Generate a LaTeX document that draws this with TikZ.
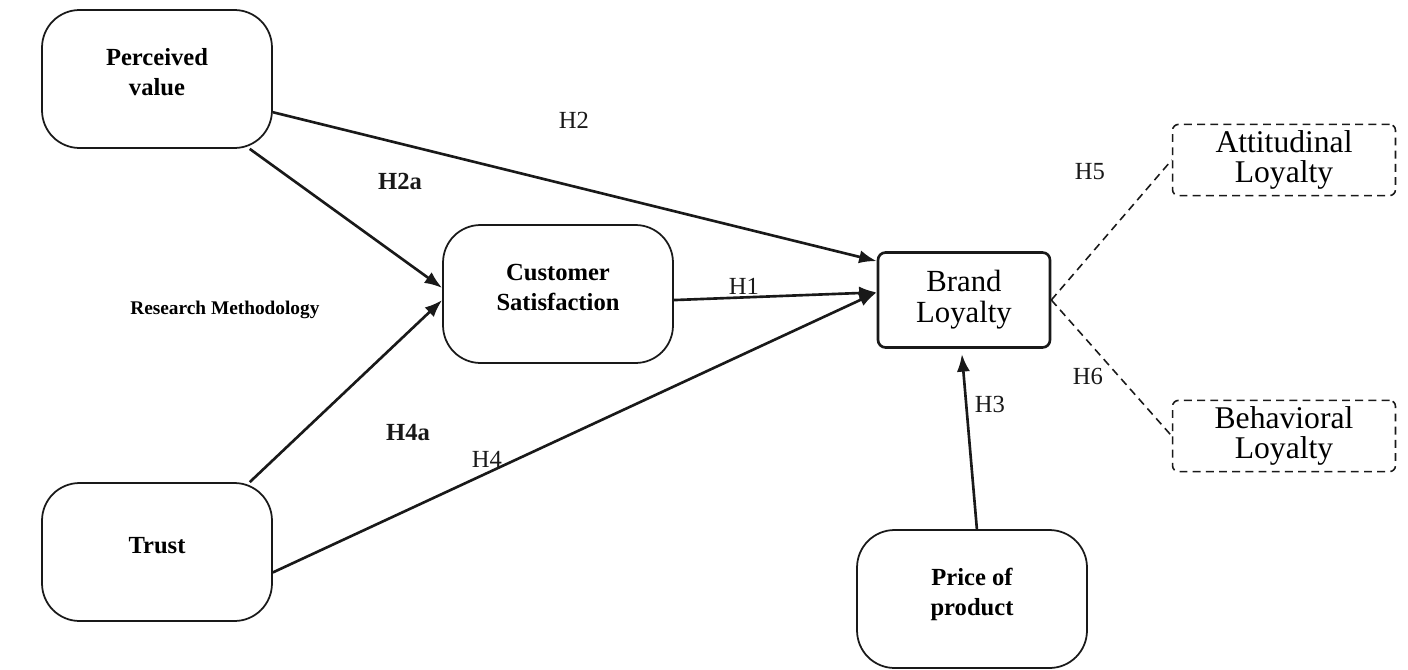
\documentclass[tikz,border=0pt]{standalone}
\usepackage{fontspec}
\setmainfont{Liberation Serif}
\usetikzlibrary{arrows.meta,positioning}
\definecolor{inkBlack}{RGB}{25,25,25}

% lifts the text of a construct a little above the middle
\newcommand{\upnudge}{\\[-9pt]\mbox{}}

\tikzset{
  constructBox/.style={draw=inkBlack,rounded corners=0.75cm,line width=1pt,minimum width=4.6cm,minimum height=2.76cm,align=center,font=\bfseries\fontsize{14}{17}\selectfont},
  brandBox/.style={draw=inkBlack,rounded corners=0.15cm,line width=1.5pt,minimum width=3.44cm,minimum height=1.9cm,align=center,font=\fontsize{17.5}{17.5}\selectfont},
  dimBox/.style={draw=inkBlack,dash pattern=on 4.5pt off 3pt,rounded corners=0.12cm,line width=0.9pt,minimum width=4.46cm,minimum height=1.26cm,align=center,font=\fontsize{18}{17.5}\selectfont},
  pathArrow/.style={-{Latex[length=10pt,width=7.5pt]},line width=1.5pt,draw=inkBlack},
  dimLink/.style={dash pattern=on 4.5pt off 3pt,line width=0.9pt,draw=inkBlack},
  hypLabel/.style={font=\fontsize{14}{15}\selectfont,text=inkBlack},
  hypBold/.style={font=\bfseries\fontsize{14}{15}\selectfont,text=inkBlack}
}

\begin{document}
\begin{tikzpicture}[x=0.02cm,y=-0.02cm]
\path[use as bounding box] (0,0) rectangle (1408,669);

% constructs
\node[constructBox] (pv) at (157,79) {Perceived\\value\upnudge};
\node[constructBox] (tr) at (157,552) {Trust\upnudge};
\node[constructBox] (cs) at (558,294) {Customer\\Satisfaction\upnudge};
\node[constructBox] (pp) at (972,599) {Price of\\product\upnudge};
\node[brandBox] (bl) at (964,300) {Brand\\Loyalty};
\node[dimBox] (al) at (1284,160) {Attitudinal\\Loyalty};
\node[dimBox] (bh) at (1284,436) {Behavioral\\Loyalty};

\node[anchor=west,inner sep=0pt,font=\bfseries\fontsize{11}{12}\selectfont] (rm) at (130,310) {Research Methodology};

% hypotheses
\draw[pathArrow] (pv.-16) -- (bl.156);
\draw[pathArrow] (pv.-37) -- (cs.177);
\draw[pathArrow] (tr.37) -- (cs.183);
\draw[pathArrow] (tr.-10) -- (bl.175);
\draw[pathArrow] (cs.-3) -- (bl.175);
\draw[pathArrow,shorten >=3pt] (pp.86) -- (bl.-93);
\draw[dimLink] (bl.east) -- (al.west);
\draw[dimLink] (bl.east) -- (bh.west);

\node[hypLabel] (h2) at (574,120) {H2};
\node[hypBold] (h2a) at (400,181) {H2a};
\node[hypBold] (h4a) at (408,433) {H4a};
\node[hypLabel] (h4) at (487,459) {H4};
\node[hypLabel] (h1) at (744,286) {H1};
\node[hypLabel] (h3) at (990,404) {H3};
\node[hypLabel] (h5) at (1090,172) {H5};
\node[hypLabel] (h6) at (1088,376) {H6};
\end{tikzpicture}
\end{document}
